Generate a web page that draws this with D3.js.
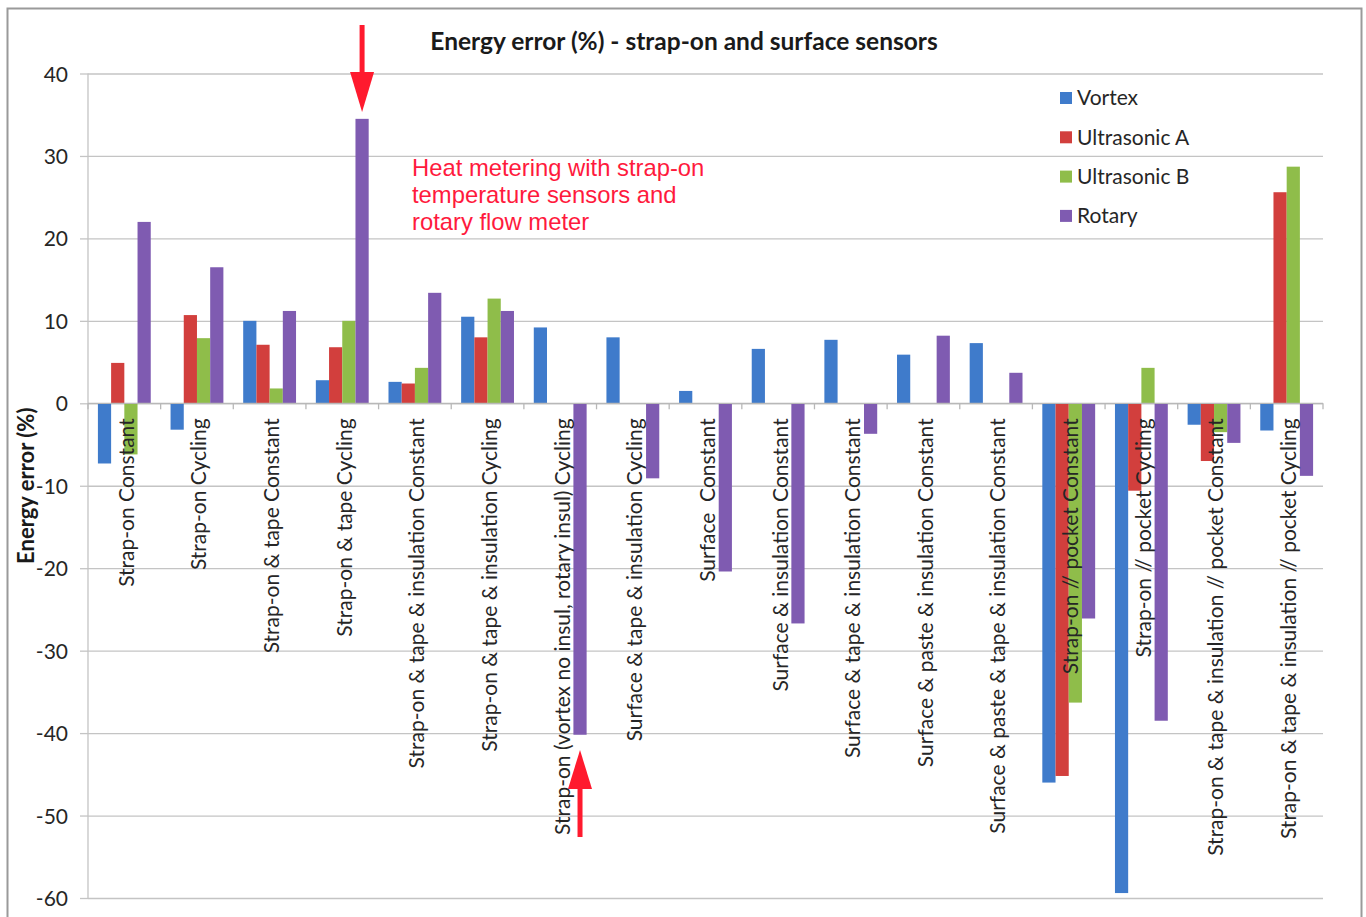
<!DOCTYPE html>
<html>
<head>
<meta charset="utf-8">
<script src="https://cdn.jsdelivr.net/npm/d3@7"></script>
<style>
  body { margin: 0; background: #fff; }
  svg { display: block; }
  .grid line { stroke: #c4c4c4; stroke-width: 1.3; }
  .grid path { display: none; }
  .y-axis path { display: none; }
  .y-axis line { stroke: #c4c4c4; stroke-width: 1.3; }
  .y-axis text { font-family: Lato, sans-serif; font-size: 21px; fill: #262626; }
  .cat-label { font-family: Lato, sans-serif; font-size: 21px; fill: #262626; }
  .legend text { font-family: Lato, sans-serif; font-size: 21px; fill: #262626; }
</style>
</head>
<body>
<div id="wrapper"></div>
<script>
async function drawChart() {

  // 1. Data

  const categories = [
    "Strap-on Constant",
    "Strap-on Cycling",
    "Strap-on & tape Constant",
    "Strap-on & tape Cycling",
    "Strap-on & tape & insulation Constant",
    "Strap-on & tape & insulation Cycling",
    "Strap-on (vortex no insul, rotary insul) Cycling",
    "Surface & tape & insulation Cycling",
    "Surface  Constant",
    "Surface & insulation Constant",
    "Surface & tape & insulation Constant",
    "Surface & paste & insulation Constant",
    "Surface & paste & tape & insulation Constant",
    "Strap-on // pocket Constant",
    "Strap-on // pocket Cycling",
    "Strap-on & tape & insulation // pocket Constant",
    "Strap-on & tape & insulation // pocket Cycling",
  ]

  const seriesNames = ["Vortex", "Ultrasonic A", "Ultrasonic B", "Rotary"]
  const seriesColors = ["#3f7bcb", "#d23f3d", "#8fbd4a", "#7f5bb1"]

  const vortex      = [-7.3, -3.2, 10.0, 2.8, 2.6, 10.5, 9.2, 8.0, 1.5, 6.6, 7.7, 5.9, 7.3, -46.0, -59.4, -2.6, -3.3]
  const ultrasonicA = [4.9, 10.7, 7.1, 6.8, 2.4, 8.0, null, null, null, null, null, null, null, -45.2, -10.6, -7.0, 25.6]
  const ultrasonicB = [-6.2, 7.9, 1.8, 10.0, 4.3, 12.7, null, null, null, null, null, null, null, -36.3, 4.3, -3.5, 28.7]
  const rotary      = [22.0, 16.5, 11.2, 34.5, 13.4, 11.2, -40.2, -9.1, -20.4, -26.7, -3.7, 8.2, 3.7, -26.1, -38.5, -4.8, -8.8]

  const yTicks = [40, 30, 20, 10, 0, -10, -20, -30, -40, -50, -60]

  const seriesValues = [vortex, ultrasonicA, ultrasonicB, rotary]
  const dataset = categories.map((c, i) => ({
    category: c,
    values: seriesNames.map((s, j) => ({ series: s, value: seriesValues[j][i] })),
  }))

  // 2. Dimensions

  let dimensions = {
    width: 1366,
    height: 917,
    margin: { top: 73.5, right: 43, bottom: 19, left: 88 },
  }
  dimensions.boundedWidth = dimensions.width
    - dimensions.margin.left
    - dimensions.margin.right
  dimensions.boundedHeight = dimensions.height
    - dimensions.margin.top
    - dimensions.margin.bottom

  // 3. Canvas

  const wrapper = d3.select("#wrapper")
    .append("svg")
      .attr("width", dimensions.width)
      .attr("height", dimensions.height)

  wrapper.append("rect")
      .attr("x", 7.5)
      .attr("y", 8.5)
      .attr("width", 1354)
      .attr("height", 930)
      .attr("fill", "#fff")
      .attr("stroke", "#9a9a9a")
      .attr("stroke-width", 2)

  const bounds = wrapper.append("g")
      .attr("transform", `translate(${dimensions.margin.left}, ${dimensions.margin.top})`)

  // 4. Scales

  const xScale = d3.scaleBand()
    .domain(categories)
    .range([0, dimensions.boundedWidth])

  const seriesScale = d3.scaleBand()
    .domain(seriesNames)
    .range([0, xScale.bandwidth()])
    .paddingOuter(0.75)

  const yScale = d3.scaleLinear()
    .domain([-60, 40])
    .range([dimensions.boundedHeight, 0])

  const colorScale = d3.scaleOrdinal()
    .domain(seriesNames)
    .range(seriesColors)

  // 5. Peripherals behind bars

  bounds.append("g")
      .attr("class", "grid")
      .call(d3.axisLeft(yScale)
        .tickValues(yTicks)
        .tickSize(-dimensions.boundedWidth)
        .tickFormat(""))

  bounds.append("line")
      .attr("x1", 0)
      .attr("x2", 0)
      .attr("y1", 0)
      .attr("y2", dimensions.boundedHeight)
      .attr("stroke", "#c4c4c4")
      .attr("stroke-width", 1.3)

  const yAxis = bounds.append("g")
      .attr("class", "y-axis")
      .call(d3.axisLeft(yScale)
        .tickValues(yTicks)
        .tickSize(8)
        .tickPadding(12)
        .tickFormat(d => String(d)))
  yAxis.selectAll("text").attr("dy", "0.36em")

  // 6. Bars

  const groups = bounds.selectAll(".cat")
    .data(dataset)
    .join("g")
      .attr("class", "cat")
      .attr("transform", d => `translate(${xScale(d.category)}, 0)`)

  groups.selectAll("rect")
    .data(d => d.values.filter(v => v.value !== null))
    .join("rect")
      .attr("x", d => seriesScale(d.series))
      .attr("width", seriesScale.bandwidth())
      .attr("y", d => yScale(Math.max(0, d.value)))
      .attr("height", d => Math.abs(yScale(d.value) - yScale(0)))
      .attr("fill", d => colorScale(d.series))

  // zero line with category ticks
  const zeroY = yScale(0)
  bounds.append("line")
      .attr("x1", 0)
      .attr("x2", dimensions.boundedWidth)
      .attr("y1", zeroY)
      .attr("y2", zeroY)
      .attr("stroke", "#b8b8b8")
      .attr("stroke-width", 1.3)

  bounds.selectAll(".cat-tick")
    .data(d3.range(categories.length + 1))
    .join("line")
      .attr("class", "cat-tick")
      .attr("x1", i => i * xScale.step())
      .attr("x2", i => i * xScale.step())
      .attr("y1", zeroY)
      .attr("y2", zeroY + 6)
      .attr("stroke", "#b8b8b8")
      .attr("stroke-width", 1.3)

  bounds.selectAll(".cat-label")
    .data(categories)
    .join("text")
      .attr("class", "cat-label")
      .attr("transform", d => `translate(${xScale(d) + xScale.bandwidth() / 2 + 2}, ${zeroY + 15}) rotate(-90)`)
      .attr("text-anchor", "end")
      .attr("dy", "0.35em")
      .style("white-space", "pre")
      .text(d => d)

  // 7. Title, axis label, legend, notes

  wrapper.append("text")
      .attr("x", 684)
      .attr("y", 50)
      .attr("text-anchor", "middle")
      .style("font-family", "Lato, sans-serif")
      .style("font-weight", "bold")
      .style("font-size", "24.5px")
      .style("fill", "#1a1a1a")
      .text("Energy error (%) - strap-on and surface sensors")

  wrapper.append("text")
      .attr("transform", `translate(26, ${dimensions.margin.top + dimensions.boundedHeight / 2}) rotate(-90)`)
      .attr("text-anchor", "middle")
      .attr("dy", "0.35em")
      .style("font-family", "Lato, sans-serif")
      .style("font-weight", "bold")
      .style("font-size", "22px")
      .style("fill", "#1a1a1a")
      .text("Energy error (%)")

  const legend = wrapper.append("g")
      .attr("class", "legend")
      .attr("transform", "translate(1060, 98)")

  const legendItems = legend.selectAll("g")
    .data(seriesNames)
    .join("g")
      .attr("transform", (d, i) => `translate(0, ${i * 39.3})`)

  legendItems.append("rect")
      .attr("x", 0)
      .attr("y", -6)
      .attr("width", 12)
      .attr("height", 12)
      .attr("fill", d => colorScale(d))

  legendItems.append("text")
      .attr("x", 17)
      .attr("dy", "0.35em")
      .text(d => d)

  const noteLines = ["Heat metering with strap-on", "temperature sensors and", "rotary flow meter"]
  wrapper.append("text")
      .style("font-family", "'Liberation Sans', Arial, sans-serif")
      .style("font-size", "23.8px")
      .style("fill", "#ff1a3d")
    .selectAll("tspan")
    .data(noteLines)
    .join("tspan")
      .attr("x", 412)
      .attr("y", (d, i) => 176 + i * 27)
      .text(d => d)

  // arrows pointing at the rotary bars of categories 4 and 7
  const arrowColor = "#ff1a2e"
  const barCenter = (catIndex, series) => dimensions.margin.left
    + xScale(categories[catIndex]) + seriesScale(series) + seriesScale.bandwidth() / 2

  const downX = barCenter(3, "Rotary")
  wrapper.append("line")
      .attr("x1", downX).attr("x2", downX)
      .attr("y1", 25).attr("y2", 80)
      .attr("stroke", arrowColor)
      .attr("stroke-width", 5)
  wrapper.append("path")
      .attr("d", `M${downX - 12},72 L${downX + 12},72 L${downX},112 Z`)
      .attr("fill", arrowColor)

  const upX = barCenter(6, "Rotary")
  wrapper.append("line")
      .attr("x1", upX).attr("x2", upX)
      .attr("y1", 780).attr("y2", 837)
      .attr("stroke", arrowColor)
      .attr("stroke-width", 5)
  wrapper.append("path")
      .attr("d", `M${upX - 12},789 L${upX + 12},789 L${upX},750 Z`)
      .attr("fill", arrowColor)
}
drawChart()
</script>
</body>
</html>
